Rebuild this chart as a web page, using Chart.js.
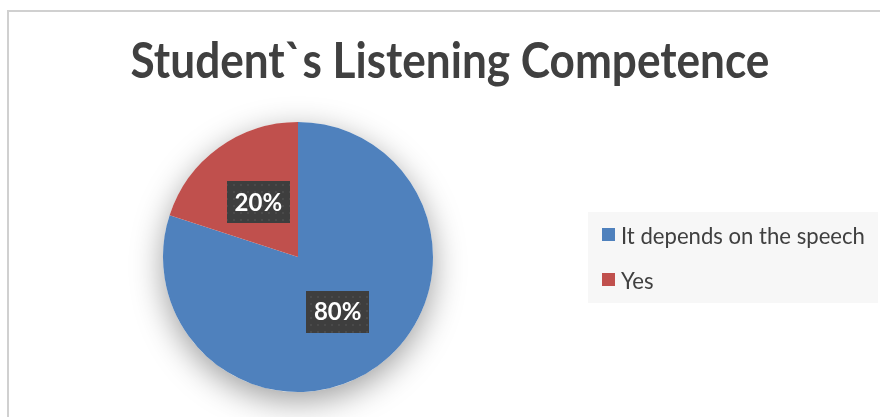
<!DOCTYPE html>
<html><head><meta charset="utf-8">
<script src="https://cdn.jsdelivr.net/npm/chart.js@4"></script>
<style>html,body{margin:0;padding:0;background:#fff}#wrap{width:880px;height:417px;position:relative}</style>
</head><body><div id="wrap"><canvas id="c" width="880" height="417"></canvas></div>
<script>
const chartTitle = "Student`s Listening Competence";
const categories = ["It depends on the speech", "Yes"];
const values = [80, 20];
const sliceColors = ["#4F81BD", "#C0504D"];

const FONT = "Lato, 'Open Sans', 'Liberation Sans', sans-serif";

function fitSize(ctx, text, weight, targetW) {
  ctx.font = weight + " 100px " + FONT;
  const w = ctx.measureText(text).width;
  return 100 * targetW / w;
}

function makePattern(ctx) {
  const p = document.createElement('canvas');
  p.width = 7; p.height = 7;
  const pc = p.getContext('2d');
  pc.fillStyle = '#3e3e3e'; pc.fillRect(0, 0, 7, 7);
  pc.fillStyle = '#4a4a4a'; pc.fillRect(2, 2, 2, 2);
  return ctx.createPattern(p, 'repeat');
}

const decor = {
  id: 'decor',
  beforeDraw(chart) {
    const ctx = chart.ctx;
    ctx.save();
    ctx.fillStyle = '#fff';
    ctx.fillRect(0, 0, chart.width, chart.height);
    // frame
    ctx.fillStyle = '#d0d0d0';
    ctx.fillRect(7, 10, 2, chart.height - 10);
    ctx.fillRect(7, 10, chart.width - 7, 2);
    // title (slightly stretched vertically to match the reference's tall, narrow face)
    const ts = fitSize(ctx, chartTitle, 'bold', 639);
    ctx.save();
    ctx.translate(450, 78);
    ctx.scale(1, 1.12);
    ctx.font = 'bold ' + ts + 'px ' + FONT;
    ctx.fillStyle = '#404040';
    ctx.textAlign = 'center';
    ctx.textBaseline = 'alphabetic';
    ctx.fillText(chartTitle, 0, 0);
    ctx.restore();
    // legend
    ctx.fillStyle = '#f7f7f7';
    ctx.fillRect(588, 212, 290, 91);
    const ls = fitSize(ctx, categories[0], 'normal', 244);
    ctx.font = ls + 'px ' + FONT;
    ctx.textAlign = 'left';
    ctx.textBaseline = 'middle';
    const ys = [235, 280];
    categories.forEach((c, i) => {
      ctx.fillStyle = sliceColors[i];
      ctx.fillRect(602, ys[i] - 7, 13, 13);
      ctx.fillStyle = '#404040';
      ctx.save();
      ctx.translate(621, ys[i] + 1);
      ctx.scale(1, 1.08);
      ctx.fillText(c, 0, 0);
      ctx.restore();
    });
    ctx.restore();
  },
  beforeDatasetsDraw(chart) {
    const meta = chart.getDatasetMeta(0);
    const a = meta.data[0];
    if (!a) return;
    const ctx = chart.ctx;
    ctx.save();
    ctx.shadowColor = 'rgba(0,0,0,0.38)';
    ctx.shadowBlur = 32;
    ctx.shadowOffsetY = 9;
    ctx.fillStyle = '#fff';
    ctx.beginPath();
    ctx.arc(a.x, a.y, a.outerRadius, 0, Math.PI * 2);
    ctx.fill();
    ctx.restore();
  },
  afterDatasetsDraw(chart) {
    const ctx = chart.ctx;
    const meta = chart.getDatasetMeta(0);
    const total = values.reduce((s, v) => s + v, 0);
    const pat = makePattern(ctx);
    ctx.save();
    meta.data.forEach((arc, i) => {
      const pos = arc.tooltipPosition();
      const bw = 63, bh = 42;
      const bx = Math.round(pos.x - bw / 2), by = Math.round(pos.y - bh / 2);
      ctx.fillStyle = pat;
      ctx.fillRect(bx, by, bw, bh);
      ctx.fillStyle = '#ffffff';
      ctx.font = 'bold 24px ' + FONT;
      ctx.textAlign = 'center';
      ctx.textBaseline = 'middle';
      ctx.fillText(Math.round(values[i] / total * 100) + '%', pos.x, pos.y + 1);
    });
    ctx.restore();
  }
};

new Chart(document.getElementById('c'), {
  type: 'pie',
  data: {
    labels: categories,
    datasets: [{ data: values, backgroundColor: sliceColors, borderWidth: 0, hoverOffset: 0, offset: 0 }]
  },
  options: {
    responsive: false,
    devicePixelRatio: 1,
    animation: false,
    layout: { padding: { left: 163, right: 447, top: 122, bottom: 25 } },
    plugins: { legend: { display: false }, tooltip: { enabled: false }, title: { display: false } },
    events: []
  },
  plugins: [decor]
});
</script>
</body></html>
